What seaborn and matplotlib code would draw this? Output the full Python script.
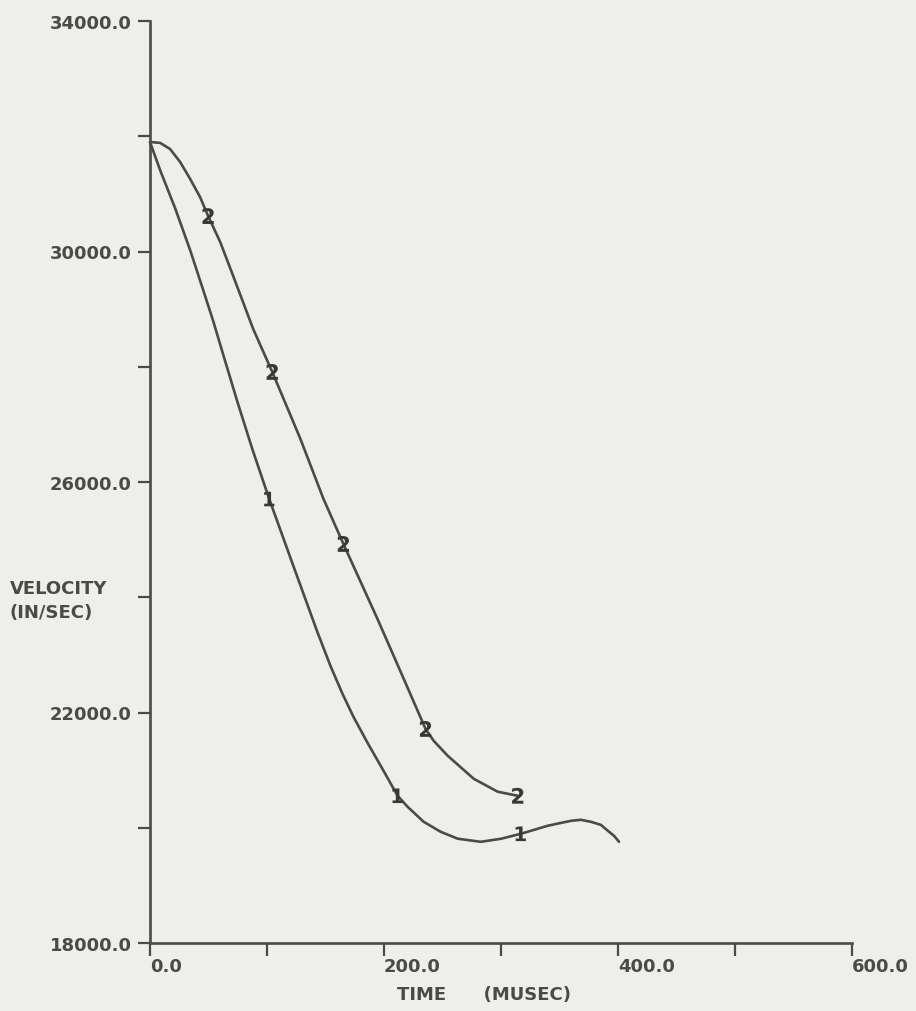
import matplotlib
matplotlib.use("Agg")
import matplotlib.pyplot as plt
import seaborn as sns
import pandas as pd

# Velocity history, curve 1 (TIME in microseconds, VELOCITY in in/sec)
time_1 = [0.0, 8.6, 21.4, 34.3, 45.4, 54.0, 64.2, 74.5, 87.4, 101.9, 122.5,
          143.0, 154.2, 164.5, 173.9, 185.9, 198.7, 211.6, 220.1, 233.8,
          248.4, 263.0, 282.7, 299.8, 316.9, 340.0, 359.7, 368.3, 376.9,
          385.4, 391.4, 396.6, 400.9]
vel_1 = [31900, 31415, 30755, 30025, 29335, 28795, 28100, 27405, 26575, 25705,
         24545, 23400, 22810, 22325, 21925, 21475, 21020, 20555, 20365, 20105,
         19930, 19810, 19756, 19808, 19895, 20035, 20120, 20138, 20103, 20050,
         19946, 19860, 19756]

# Velocity history, curve 2
time_2 = [0.0, 8.6, 17.1, 25.7, 34.3, 42.8, 49.7, 60.0, 71.1, 88.2, 104.5,
          128.5, 148.2, 165.3, 194.4, 217.6, 235.5, 242.4, 254.4, 276.7,
          297.2, 314.3]
vel_2 = [31900, 31885, 31780, 31555, 31260, 30945, 30615, 30165, 29575, 28655,
         27910, 26750, 25710, 24925, 23625, 22550, 21715, 21510, 21250, 20850,
         20625, 20555]

# Symbol positions on each curve
mark_t1 = [101.9, 211.6, 316.9]
mark_v1 = [25705, 20555, 19895]
mark_t2 = [49.7, 104.5, 165.3, 235.5, 314.3]
mark_v2 = [30615, 27910, 24925, 21715, 20555]

x_major = [0, 200, 400, 600]
x_minor = [100, 300, 500]
y_major = [18000, 22000, 26000, 30000, 34000]
y_minor = [20000, 24000, 28000, 32000]

INK = "#4a4a48"
PAPER = "#eeeeec"

sns.set_theme(style="white", rc={"axes.facecolor": PAPER,
                                 "figure.facecolor": PAPER})
plt.rcParams["font.family"] = ["DejaVu Sans"]
plt.rcParams["font.weight"] = "bold"

fig = plt.figure(figsize=(9.16, 10.12), dpi=100)
ax = fig.add_axes([150 / 916, 1 - 944 / 1012, 702 / 916, 922 / 1012])

c1 = pd.DataFrame({"t": time_1, "v": vel_1})
c2 = pd.DataFrame({"t": time_2, "v": vel_2})
m1 = pd.DataFrame({"t": mark_t1, "v": mark_v1})
m2 = pd.DataFrame({"t": mark_t2, "v": mark_v2})

for df in (c1, c2):
    sns.lineplot(data=df, x="t", y="v", sort=False, estimator=None,
                 color=INK, linewidth=1.9, ax=ax, clip_on=False)

sns.scatterplot(data=m1, x="t", y="v", marker=r"$\mathbf{1}$", s=110,
                color="#383836", edgecolor="none", ax=ax, zorder=5)
sns.scatterplot(data=m2, x="t", y="v", marker=r"$\mathbf{2}$", s=130,
                color="#383836", edgecolor="none", ax=ax, zorder=5)

ax.set_xlim(0, 600)
ax.set_ylim(18000, 34000)

for side in ("top", "right"):
    ax.spines[side].set_visible(False)
for side in ("left", "bottom"):
    ax.spines[side].set_color(INK)
    ax.spines[side].set_linewidth(1.9)

ax.set_xticks(x_major)
ax.set_xticks(x_minor, minor=True)
ax.set_yticks(y_major)
ax.set_yticks(y_minor, minor=True)
ax.set_xticklabels([f"{v:.1f}" for v in x_major], ha="left")
ax.set_yticklabels([f"{v:.1f}" for v in y_major])

ax.tick_params(which="both", direction="out", length=9, width=1.6,
               color=INK, bottom=True, left=True)
ax.tick_params(axis="x", which="major", pad=1, labelsize=13, labelcolor=INK)
ax.tick_params(axis="y", which="major", pad=4, labelsize=13, labelcolor=INK)

ax.set_xlabel("TIME      (MUSEC)", fontsize=13, color=INK, fontweight="bold")
ax.xaxis.set_label_coords(0.476, -0.046)
ax.xaxis.label.set_va("top")

ax.set_ylabel("VELOCITY\n(IN/SEC)", fontsize=13, color=INK, fontweight="bold",
              rotation=0, ha="left", va="center", linespacing=1.45)
ax.yaxis.set_label_coords(-0.2, 0.372)

fig.savefig("out.png", dpi=100, facecolor=PAPER)
